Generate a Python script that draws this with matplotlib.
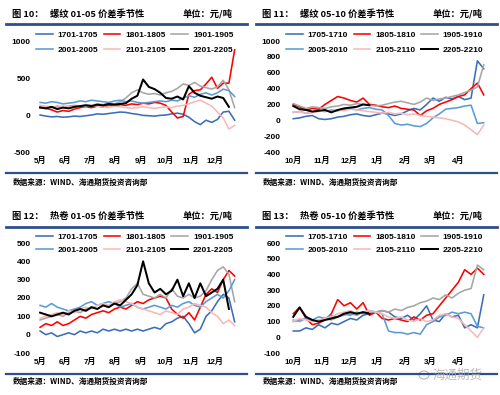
import pandas as pd
import matplotlib
matplotlib.use("Agg")
import matplotlib.pyplot as plt
from matplotlib.patches import Ellipse

# ---- 螺纹 01-05 (weekly, from May 1) ----
rb0105_labels = ["1701-1705", "1801-1805", "1901-1905", "2001-2005", "2101-2105", "2201-2205"]
rb0105_1701 = [0, -15, -25, -20, -30, -25, -15, -20, -10, 0, 15, 10, 20, 30, 40, 35, 20, 10,
               -5, -10, -15, -5, 0, 15, 25, 10, -30, -90, -130, -70, -100, -60, 40, 50, -70]
rb0105_1801 = [110, 90, 70, 40, 60, 50, 80, 100, 110, 100, 120, 110, 130, 120, 140, 130, 150, 140,
               160, 150, 170, 160, 130, 40, -40, -20, 280, 330, 340, 420, 510, 360, 430, 430, 880]
rb0105_1901 = [100, 110, 100, 120, 110, 120, 130, 120, 140, 130, 150, 140, 160, 150, 180, 230, 300, 340,
               300, 280, 290, 270, 300, 320, 360, 420, 400, 440, 390, 370, 350, 380, 470, 340, 100]
rb0105_2001 = [170, 160, 180, 170, 150, 160, 170, 190, 180, 200, 190, 180, 170, 190, 200, 180, 190, 170,
               160, 170, 180, 190, 180, 200, 190, 230, 260, 240, 280, 300, 270, 300, 350, 330, 250]
rb0105_2101 = [130, 120, 110, 100, 120, 110, 100, 120, 110, 130, 120, 110, 100, 120, 110, 100, 90, 100,
               110, 100, 90, 100, 110, 100, 120, 130, 150, 180, 200, 160, 120, 40, -40, -190, -140]
rb0105_2201 = [100, 90, 110, 80, 100, 90, 110, 120, 130, 120, 140, 130, 150, 140, 150, 160, 220, 260,
               480, 380, 350, 300, 230, 220, 250, 210, 390, 300, 260, 240, 220, 250, 230, 110]

# ---- 螺纹 05-10 (weekly, from Oct 1) ----
rb0510_labels = ["1705-1710", "1805-1810", "1905-1910", "2005-2010", "2105-2110", "2205-2210"]
rb0510_1705 = [20, 30, 50, 60, 20, 10, 20, 40, 50, 70, 80, 60, 50, 70, 90, 80, 60, 80,
               120, 150, 130, 200, 280, 240, 290, 270, 300, 260, 280, 750, 650]
rb0510_1805 = [200, 170, 130, 150, 140, 200, 250, 300, 280, 250, 230, 280, 200, 190, 170, 160, 180, 150,
               140, 130, 60, 120, 150, 200, 230, 260, 300, 320, 400, 470, 320]
rb0510_1905 = [210, 180, 150, 170, 160, 150, 170, 180, 200, 190, 210, 200, 190, 180, 190, 210, 230, 240,
               220, 200, 230, 280, 250, 270, 280, 300, 320, 350, 380, 420, 700]
rb0510_2005 = [100, 110, 90, 100, 120, 110, 130, 120, 140, 150, 130, 150, 160, 140, 130, 60, -40, -60,
               -50, -70, -80, -40, 30, 80, 140, 150, 160, 180, 190, -40, -30]
rb0510_2105 = [100, 110, 90, 100, 110, 120, 110, 130, 120, 140, 130, 120, 110, 100, 90, 100, 80, 90,
               70, 80, 60, 50, 40, 30, 20, 0, -20, -60, -120, -180, -60]
rb0510_2205 = [180, 140, 130, 110, 120, 130, 100, 130, 150, 160, 170, 200, 190]

# ---- 热卷 01-05 (weekly, from May 1) ----
hc0105_labels = rb0105_labels
hc0105_1701 = [20, 0, 10, -10, 0, 10, 0, 20, 10, 20, 10, 30, 20, 30, 20, 30, 20, 30,
               20, 30, 40, 30, 60, 70, 90, 100, 60, 10, 30, 100, 130, 180, 220, 200, 70]
hc0105_1801 = [40, 60, 50, 70, 50, 60, 80, 100, 90, 110, 120, 130, 120, 140, 150, 140, 160, 180,
               170, 190, 200, 210, 200, 140, 110, 90, 120, 80, 150, 220, 250, 230, 300, 350, 320]
hc0105_1901 = [80, 90, 100, 110, 100, 120, 130, 120, 140, 150, 140, 160, 150, 170, 180, 200, 250, 280,
               220, 210, 200, 220, 200, 250, 210, 200, 220, 200, 210, 240, 300, 350, 370, 330, 180]
hc0105_2001 = [160, 150, 170, 150, 140, 130, 140, 150, 170, 180, 160, 170, 180, 170, 150, 160, 170, 150,
               140, 150, 160, 150, 140, 160, 150, 170, 180, 160, 150, 180, 200, 220, 200, 240, 300]
hc0105_2101 = [90, 100, 110, 120, 110, 130, 120, 140, 150, 140, 160, 170, 160, 180, 190, 180, 170, 150,
               140, 130, 120, 110, 130, 120, 110, 140, 150, 170, 160, 150, 120, 100, 60, 80, 50]
hc0105_2201 = [120, 110, 100, 110, 120, 110, 130, 140, 130, 150, 140, 160, 150, 170, 160, 190, 220, 270,
               400, 280, 230, 250, 220, 240, 300, 210, 280, 200, 280, 210, 230, 250, 300, 140]

# ---- 热卷 05-10 (weekly, from Oct 1) ----
hc0510_labels = rb0510_labels
hc0510_1705 = [40, 40, 60, 50, 80, 60, 90, 80, 100, 120, 110, 140, 150, 160, 170, 160, 130, 120,
               140, 110, 150, 200, 110, 100, 150, 130, 140, 60, 80, 60, 270]
hc0510_1805 = [150, 190, 120, 80, 90, 110, 150, 240, 200, 220, 180, 220, 140, 160, 120, 110, 120, 110,
               100, 130, 110, 140, 150, 200, 250, 300, 350, 430, 400, 440, 400]
hc0510_1905 = [110, 100, 120, 100, 110, 120, 110, 130, 140, 150, 140, 160, 170, 160, 170, 160, 180, 170,
               190, 200, 220, 230, 250, 240, 270, 250, 280, 300, 310, 460, 430]
hc0510_2005 = [100, 110, 120, 110, 130, 120, 140, 130, 150, 140, 160, 150, 170, 160, 150, 40, 30, 30,
               20, 30, 20, 80, 100, 130, 140, 160, 150, 160, 150, 70, 60]
hc0510_2105 = [100, 120, 110, 100, 110, 120, 130, 150, 160, 170, 150, 160, 170, 160, 150, 130, 120, 130,
               110, 100, 120, 100, 110, 140, 150, 130, 120, 80, 40, 0, 60]
hc0510_2205 = [130, 190, 130, 110, 100, 110, 120, 130, 150, 160, 150, 160, 150]

COLORS = ["#3a6fb7", "#ff0000", "#a6a6a6", "#5b9bd5", "#f9b8b8", "#000000"]
WIDTHS = [1.15, 1.15, 1.15, 1.15, 1.15, 1.45]
NAVY = "#2f4e8c"
CJK = ["Noto Sans CJK SC", "DejaVu Sans"]
NUM = ["Liberation Sans", "Noto Sans CJK SC", "DejaVu Sans"]

W, H = 500, 395
fig = plt.figure(figsize=(5, 3.95), dpi=100)


def px_axes(left, top, right, bottom):
    return fig.add_axes([left / W, 1 - bottom / H, (right - left) / W, (bottom - top) / H])


def header(x0, y_title, y_line1, y_line2, y_src, num, name):
    fig.text((x0 + 12) / W, 1 - y_title / H, f"图 {num}：", family=CJK, weight="bold",
             fontsize=6.7, va="center")
    fig.text((x0 + 50) / W, 1 - y_title / H, name, family=CJK, weight="bold",
             fontsize=6.7, va="center")
    fig.text((x0 + 232) / W, 1 - y_title / H, "单位：元/吨", family=CJK, weight="bold",
             fontsize=6.7, va="center", ha="right")
    for y, lw in [(y_line1, 2.0), (y_line2, 1.6)]:
        fig.add_artist(plt.Line2D([(x0 + 6) / W, (x0 + 247) / W], [1 - y / H, 1 - y / H],
                                  color=NAVY, lw=lw))
    fig.text((x0 + 13) / W, 1 - y_src / H, "数据来源：WIND、海通期货投资咨询部", family=CJK,
             weight="bold", fontsize=5.5, va="center")


def panel(box, start, series, labels, ylim, yticks, xlim_days, nmonths, leg_xy, leg_space):
    ax = px_axes(*box)
    handles = []
    for vals, lab, col, lw in zip(series, labels, COLORS, WIDTHS):
        dates = pd.date_range(start, periods=len(vals), freq="7D")
        h, = ax.plot(dates, vals, color=col, lw=lw, label=lab, solid_joinstyle="round")
        handles.append(h)
    t0 = pd.Timestamp(start)
    ax.set_xlim(t0 + pd.Timedelta(days=xlim_days[0]), t0 + pd.Timedelta(days=xlim_days[1]))
    ax.set_ylim(*ylim)
    ticks = pd.date_range(start, periods=nmonths, freq="MS")
    ax.set_xticks(ticks)
    ax.set_xticklabels([f"{d.month}月" for d in ticks], family=NUM, weight="bold", fontsize=5.8)
    ax.set_yticks(yticks)
    ax.set_yticklabels([str(v) for v in yticks], family=NUM, weight="bold", fontsize=6)
    for s in ax.spines.values():
        s.set_visible(False)
    ax.tick_params(length=0, pad=3.8)
    ax.patch.set_alpha(0)
    order = [0, 3, 1, 4, 2, 5]
    ax.legend([handles[i] for i in order], [labels[i] for i in order], ncol=3,
              loc="upper left", bbox_to_anchor=(leg_xy[0] / W, 1 - leg_xy[1] / H),
              bbox_transform=fig.transFigure, frameon=False, borderpad=0, borderaxespad=0,
              handlelength=2.0, handletextpad=0.6, columnspacing=0.65, labelspacing=leg_space,
              prop={"family": "Liberation Sans", "weight": "bold", "size": 6})
    return ax


header(0, 14, 24, 173, 182, 10, "螺纹 01-05 价差季节性")
panel((36, 41, 242, 152), "2021-05-01",
      [rb0105_1701, rb0105_1801, rb0105_1901, rb0105_2001, rb0105_2101, rb0105_2201],
      rb0105_labels, (-500, 1000), [-500, 0, 500, 1000], (-5, 247), 8, (36, 31.5), 0.85)

header(250, 14, 24, 173, 182, 11, "螺纹 05-10 价差季节性")
panel((286, 41, 491, 152), "2021-10-01",
      [rb0510_1705, rb0510_1805, rb0510_1905, rb0510_2005, rb0510_2105, rb0510_2205],
      rb0510_labels, (-400, 1000), [-400, -200, 0, 200, 400, 600, 800, 1000], (-8, 218), 7,
      (286, 31.5), 0.85)

header(0, 216, 227, 374, 381, 12, "热卷 01-05 价差季节性")
panel((36, 243, 242, 353), "2021-05-01",
      [hc0105_1701, hc0105_1801, hc0105_1901, hc0105_2001, hc0105_2101, hc0105_2201],
      hc0105_labels, (-100, 500), [-100, 0, 100, 200, 300, 400, 500], (-5, 247), 8,
      (36, 233), 0.6)

header(250, 216, 227, 374, 381, 13, "热卷 05-10 价差季节性")
panel((286, 243, 491, 353), "2021-10-01",
      [hc0510_1705, hc0510_1805, hc0510_1905, hc0510_2005, hc0510_2105, hc0510_2205],
      hc0510_labels, (-100, 600), [-100, 0, 100, 200, 300, 400, 500, 600], (-8, 218), 7,
      (286, 233), 0.6)

# watermark
fig.add_artist(Ellipse((424 / W, 1 - 375 / H), 10 / W, 8 / H, fill=False, ec="#b5b5b5", lw=0.8))
fig.text(458 / W, 1 - 375 / H, "海通期货", family=CJK, color="#a8a8a8", alpha=0.8,
         fontsize=9, ha="center", va="center")

fig.savefig("out.png", dpi=100)
